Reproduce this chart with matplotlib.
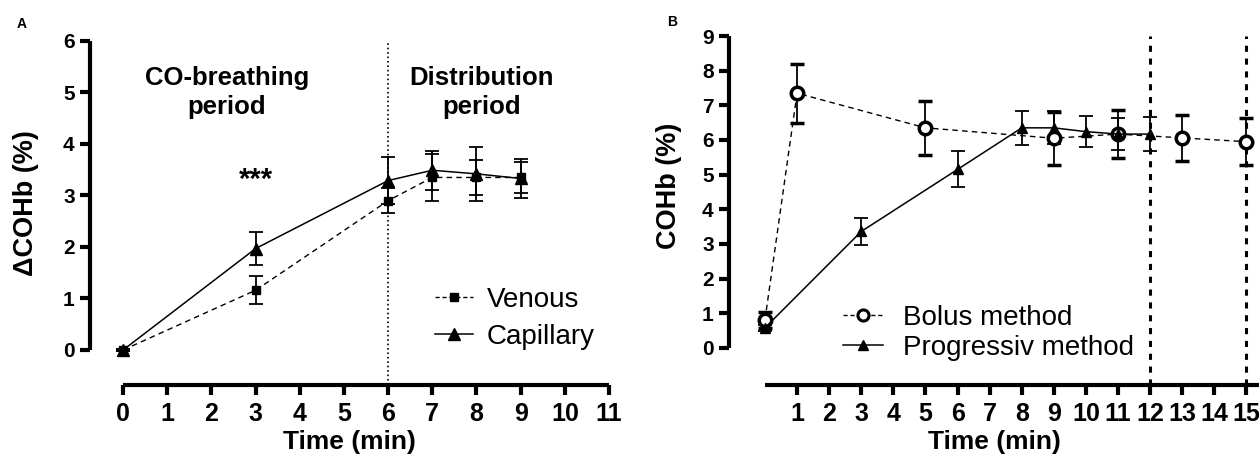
import matplotlib
matplotlib.use("Agg")
import matplotlib.pyplot as plt
from matplotlib.lines import Line2D

plt.rcParams['font.family'] = ['Liberation Sans', 'DejaVu Sans']

# panel A: delta COHb, venous vs capillary
a_time_ven = [0, 3, 6, 7, 8, 9]
a_venous = [0, 1.16, 2.90, 3.35, 3.35, 3.35]
a_venous_err = [0.02, 0.27, 0.24, 0.45, 0.34, 0.30]
a_time_cap = [0, 3, 6, 7, 8, 9]
a_capillary = [0, 1.97, 3.29, 3.49, 3.42, 3.33]
a_capillary_err = [0.02, 0.32, 0.46, 0.38, 0.52, 0.37]

# panel B: COHb, bolus vs progressive
b_time_bolus = [0, 1, 5, 9, 11, 13, 15]
b_bolus = [0.81, 7.35, 6.35, 6.05, 6.17, 6.06, 5.95]
b_bolus_err = [0.24, 0.85, 0.78, 0.77, 0.70, 0.66, 0.67]
b_time_prog = [0, 3, 6, 8, 9, 10, 11, 12]
b_prog = [0.58, 3.36, 5.15, 6.35, 6.35, 6.24, 6.17, 6.17]
b_prog_err = [0.08, 0.39, 0.52, 0.50, 0.48, 0.45, 0.45, 0.50]

a_xticks = list(range(0, 12))
b_xticks = list(range(1, 16))

W, H = 1259, 462
fig = plt.figure(figsize=(W / 100, H / 100), dpi=100)


def px_axes(l, r, b, t):
    return fig.add_axes([l / W, 1 - b / H, (r - l) / W, (b - t) / H])


def style(ax):
    for s in ['top', 'right']:
        ax.spines[s].set_visible(False)
    for s in ['left', 'bottom']:
        ax.spines[s].set_linewidth(3)
        ax.spines[s].set_capstyle('butt')
    ax.tick_params(axis='x', direction='out', length=7, width=3,
                   labelsize=18, pad=5)
    ax.tick_params(axis='y', direction='out', length=7, width=3,
                   labelsize=15, pad=4)
    for lab in ax.get_xticklabels() + ax.get_yticklabels():
        lab.set_fontweight('bold')


# ---------------- panel A ----------------
ax = px_axes(90, 609, 385, 41)
ax.set_xlim(-0.75, 11)
ax.set_ylim(-0.68, 6)
ax.spines['left'].set_bounds(0, 6)
ax.spines['bottom'].set_bounds(0, 11)
ax.set_xticks(a_xticks)
ax.set_yticks(range(0, 7))

ax.plot([6, 6], [-0.68, 6], color='black', ls=':', lw=1.2, clip_on=False)

ax.errorbar(a_time_ven, a_venous, yerr=a_venous_err, color='black', lw=1,
            dashes=(4, 3), marker='s', ms=6, capsize=5, elinewidth=1.3,
            capthick=1.3, clip_on=False)
ax.errorbar(a_time_cap, a_capillary, yerr=a_capillary_err, color='black',
            lw=1.1, ls='-', marker='^', ms=8, capsize=5, elinewidth=1.3,
            capthick=1.3, clip_on=False)

ax.text(2.35, 5.0, 'CO-breathing\nperiod', ha='center', va='center',
        fontsize=18.5, fontweight='bold', linespacing=1.25)
ax.text(8.12, 5.0, 'Distribution\nperiod', ha='center', va='center',
        fontsize=18.5, fontweight='bold', linespacing=1.25)
ax.text(3, 3.3, '***', ha='center', va='center', fontsize=21,
        fontweight='bold')

ax.set_xlabel('Time (min)', fontsize=19, fontweight='bold', labelpad=3)
ax.set_ylabel('\u0394COHb (%)', fontsize=19.5, fontweight='bold')
ax.yaxis.set_label_coords(-0.098, 0.53)
hA = [Line2D([], [], color='black', lw=1, dashes=(3, 2), marker='s', ms=6),
      Line2D([], [], color='black', lw=1.1, marker='^', ms=8)]
ax.legend(hA, ['Venous', 'Capillary'], loc='upper left',
          bbox_to_anchor=(435 / W, 1 - 287 / H),
          bbox_transform=fig.transFigure, frameon=False, fontsize=20,
          handlelength=1.37, handletextpad=0.5, labelspacing=0.4,
          borderpad=0, borderaxespad=0)
style(ax)

# ---------------- panel B ----------------
bx = px_axes(729, 1259, 385, 36)
bx.set_xlim(-1.12, 15.39)
bx.set_ylim(-1.07, 9)
bx.spines['left'].set_bounds(0, 9)
bx.spines['bottom'].set_bounds(0, 15.39)
bx.set_xticks(b_xticks)
bx.set_yticks(range(0, 10))

for xv in [12, 15]:
    bx.plot([xv, xv], [-1.07, 9], color='black', lw=2.2, dashes=(2, 2.2),
            clip_on=False)

bx.errorbar(b_time_bolus, b_bolus, yerr=b_bolus_err, color='black', lw=1,
            dashes=(4, 3), marker='o', ms=9, mfc='white', mew=2.5,
            capsize=5, elinewidth=1.3, capthick=1.3, clip_on=False)
bx.errorbar(b_time_prog, b_prog, yerr=b_prog_err, color='black', lw=1.1,
            ls='-', marker='^', ms=7, capsize=5, elinewidth=1.3,
            capthick=1.3, clip_on=False)

bx.set_xlabel('Time (min)', fontsize=19, fontweight='bold', labelpad=3)
bx.set_ylabel('COHb (%)', fontsize=19.5, fontweight='bold')
bx.yaxis.set_label_coords(-0.089, 0.57)
hB = [Line2D([], [], color='black', lw=1, dashes=(3, 2), marker='o', ms=8,
             mfc='white', mew=2.2),
      Line2D([], [], color='black', lw=1.1, marker='^', ms=7)]
bx.legend(hB, ['Bolus method', 'Progressiv method'], loc='upper left',
          bbox_to_anchor=(843 / W, 1 - 305 / H),
          bbox_transform=fig.transFigure, frameon=False, fontsize=20,
          handlelength=1.45, handletextpad=0.72, labelspacing=0.15,
          borderpad=0, borderaxespad=0)
style(bx)

fig.text(22 / W, 1 - 24 / H, 'A', fontsize=10, fontweight='bold',
         ha='center', va='center')
fig.text(672 / W, 1 - 22 / H, 'B', fontsize=10, fontweight='bold',
         ha='center', va='center')

fig.savefig('out.png', dpi=100)
